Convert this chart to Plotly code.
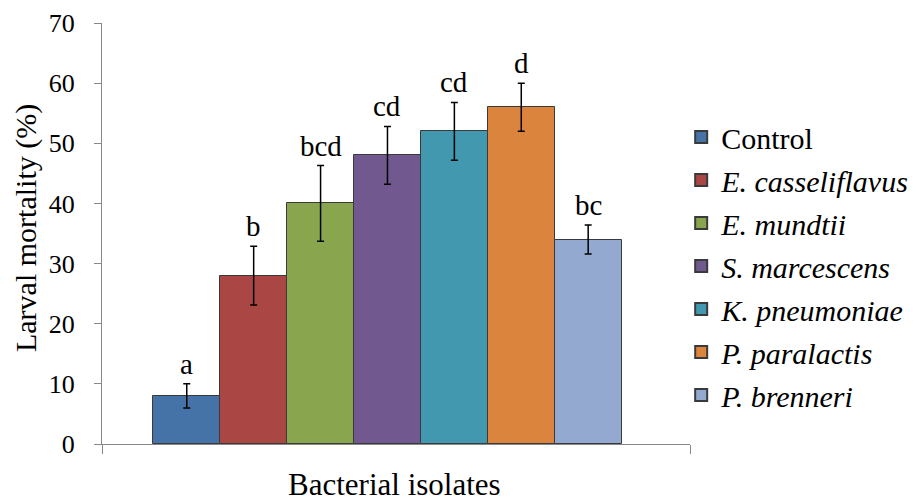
import plotly.graph_objects as go

names = ["Control", "<i>E. casseliflavus</i>", "<i>E. mundtii</i>", "<i>S. marcescens</i>",
         "<i>K. pneumoniae</i>", "<i>P. paralactis</i>", "<i>P. brenneri</i>"]
values = [8, 28, 40, 48, 52, 56, 34]
errors = [2.0, 4.9, 6.3, 4.8, 4.8, 4.0, 2.4]
letters = ["a", "b", "bcd", "cd", "cd", "d", "bc"]
colors = ["#4572A7", "#AA4643", "#89A54E", "#71588F", "#4198AF", "#DB843D", "#93A9CF"]
x_title = "Bacterial isolates"
y_title = "Larval mortality (%)"

FONT = "Times New Roman, Liberation Serif, serif"
X_RANGE = [-1.267, 7.522]

fig = go.Figure()
for i, (n, v, e, c) in enumerate(zip(names, values, errors, colors)):
    fig.add_trace(go.Bar(
        x=[i], y=[v], width=1, name=n, showlegend=False,
        marker=dict(color=c, line=dict(color="#3a3a3a", width=1)),
        error_y=dict(type="data", array=[e], visible=True, color="black",
                     thickness=1.5, width=3.5),
    ))
    fig.add_trace(go.Scatter(
        x=[None], y=[None], mode="markers", name=n, legendgroup=f"g{i}",
        marker=dict(symbol="square", size=15, color=c,
                    line=dict(color="#3a3a3a", width=1)),
    ))
    fig.add_annotation(x=i, y=v + e, text=letters[i], showarrow=False,
                       yanchor="bottom", yshift=2,
                       font=dict(family=FONT, size=29, color="black"))

fig.add_annotation(xref="paper", yref="paper", x=0, y=0.513, xshift=-76,
                   text=y_title, textangle=-90, showarrow=False,
                   xanchor="center", yanchor="middle",
                   font=dict(family=FONT, size=30, color="black"))
fig.add_annotation(xref="paper", yref="paper", x=0.4966, y=0, yshift=-40,
                   text=x_title, showarrow=False,
                   xanchor="center", yanchor="middle",
                   font=dict(family=FONT, size=31, color="black"))

fig.update_layout(
    width=911, height=493,
    margin=dict(l=94, r=229, t=15, b=57, autoexpand=False),
    plot_bgcolor="white", paper_bgcolor="white",
    font=dict(family=FONT, color="black"),
    showlegend=True,
    legend=dict(x=0.985, y=0.4228, xanchor="left", yanchor="middle",
                bgcolor="rgba(0,0,0,0)",
                font=dict(family=FONT, size=30, color="black"),
                tracegroupgap=1, itemsizing="constant", itemwidth=30),
    bargap=0, barmode="overlay",
)
fig.update_xaxes(range=X_RANGE, showticklabels=False,
                 tickmode="array", tickvals=X_RANGE, ticks="outside", ticklen=9,
                 tickcolor="#888888",
                 showgrid=False, zeroline=False, showline=True,
                 linecolor="#888888", linewidth=1, automargin=False)
fig.update_yaxes(range=[0, 70], dtick=10, showgrid=False, zeroline=False,
                 showline=True, linecolor="#888888", linewidth=1, automargin=False,
                 ticks="outside", ticklen=7, tickcolor="#888888", ticklabelstandoff=14,
                 tickfont=dict(family=FONT, size=26, color="black"))

fig.write_html("out.html")
